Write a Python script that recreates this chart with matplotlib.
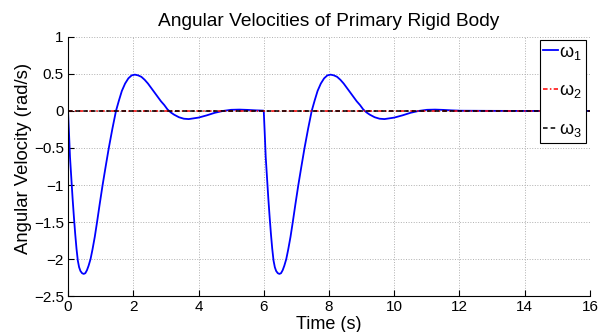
import numpy as np
import matplotlib.pyplot as plt

plt.rcParams['font.family'] = ['Liberation Sans', 'DejaVu Sans']
plt.rcParams['mathtext.fontset'] = 'custom'
plt.rcParams['mathtext.rm'] = 'Liberation Sans'
plt.rcParams['mathtext.default'] = 'regular'

# one pulse response of omega_1 (time from pulse start, rad/s)
pulse_t = [0.00, 0.03, 0.06, 0.10, 0.14, 0.18, 0.22, 0.26, 0.30, 0.34, 0.38, 0.43,
           0.48, 0.53, 0.58, 0.63, 0.69, 0.75, 0.82, 0.89, 0.97, 1.06, 1.15, 1.25,
           1.36, 1.47, 1.56, 1.65, 1.75, 1.85, 1.95, 2.05, 2.15, 2.25, 2.35, 2.45,
           2.55, 2.65, 2.75, 2.85, 2.95, 3.05, 3.15, 3.25, 3.40, 3.55, 3.70, 3.85,
           4.00, 4.25, 4.50, 4.75, 5.00, 5.25, 5.50, 5.75, 5.99]
pulse_w = [0.00, -0.30, -0.62, -0.90, -1.18, -1.43, -1.66, -1.86, -2.02, -2.11, -2.16, -2.19,
           -2.20, -2.19, -2.15, -2.09, -2.00, -1.87, -1.70, -1.50, -1.26, -1.00, -0.76, -0.50,
           -0.24, 0.00, 0.14, 0.27, 0.37, 0.44, 0.48, 0.49, 0.48, 0.46, 0.42, 0.37,
           0.31, 0.25, 0.19, 0.13, 0.08, 0.02, -0.02, -0.05, -0.085, -0.105, -0.11, -0.10,
           -0.09, -0.06, -0.025, 0.00, 0.015, 0.018, 0.014, 0.008, 0.004]
pulse_starts = [0, 6]
tail_t = [12.0, 13.0, 14.0, 15.0, 16.0]
tail_w = [0.003, 0.001, 0.0, 0.0, 0.0]

yticks = [-2.5, -2, -1.5, -1, -0.5, 0, 0.5, 1]
ytick_labels = ['\u22122.5', '\u22122', '\u22121.5', '\u22121', '\u22120.5', '0', '0.5', '1']
xticks = [0, 2, 4, 6, 8, 10, 12, 14, 16]

t = np.concatenate([np.array(pulse_t) + s for s in pulse_starts] + [np.array(tail_t)])
w1 = np.concatenate([np.array(pulse_w) for s in pulse_starts] + [np.array(tail_w)])
w2 = np.zeros_like(t)
w3 = np.zeros_like(t)

fig = plt.figure(figsize=(6.02, 3.32), dpi=100)
ax = fig.add_axes([0.113, 0.108, 0.867, 0.781])

ax.plot(t, w1, color='blue', lw=1.3, label='ω$_1$')
ax.plot(t, w2, color='red', lw=1.1, ls=(0, (3, 1.5, 1, 1.5)), label='ω$_2$')
ax.plot(t, w3, color='black', lw=1.1, ls=(0, (3, 2)), label='ω$_3$')

ax.set_xlim(0, 16)
ax.set_ylim(-2.5, 1)
ax.set_xticks(xticks)
ax.set_yticks(yticks)
ax.set_yticklabels(ytick_labels)
ax.tick_params(direction='in', length=4, labelsize=11, width=0.8)
ax.tick_params(axis='y', pad=3)
ax.tick_params(axis='x', pad=3)
ax.spines['top'].set_visible(False)
ax.spines['right'].set_visible(False)
ax.grid(True, ls=':', color='#b0b0b0', lw=0.7)

ax.set_title('Angular Velocities of Primary Rigid Body', fontsize=13.8, pad=8)
ax.set_xlabel('Time (s)', fontsize=13, labelpad=1)
ax.set_ylabel('Angular Velocity (rad/s)', fontsize=13.3)
ax.yaxis.set_label_coords(-0.069, 0.53)

leg = ax.legend(loc='upper right', bbox_to_anchor=(0.992, 0.988), borderaxespad=0,
                fontsize=13, handlelength=0.8, handletextpad=0.1, labelspacing=1.15,
                borderpad=0.2, fancybox=False, framealpha=1)
leg.get_frame().set_edgecolor('black')
leg.get_frame().set_linewidth(0.8)

fig.savefig('out.png', dpi=100)
